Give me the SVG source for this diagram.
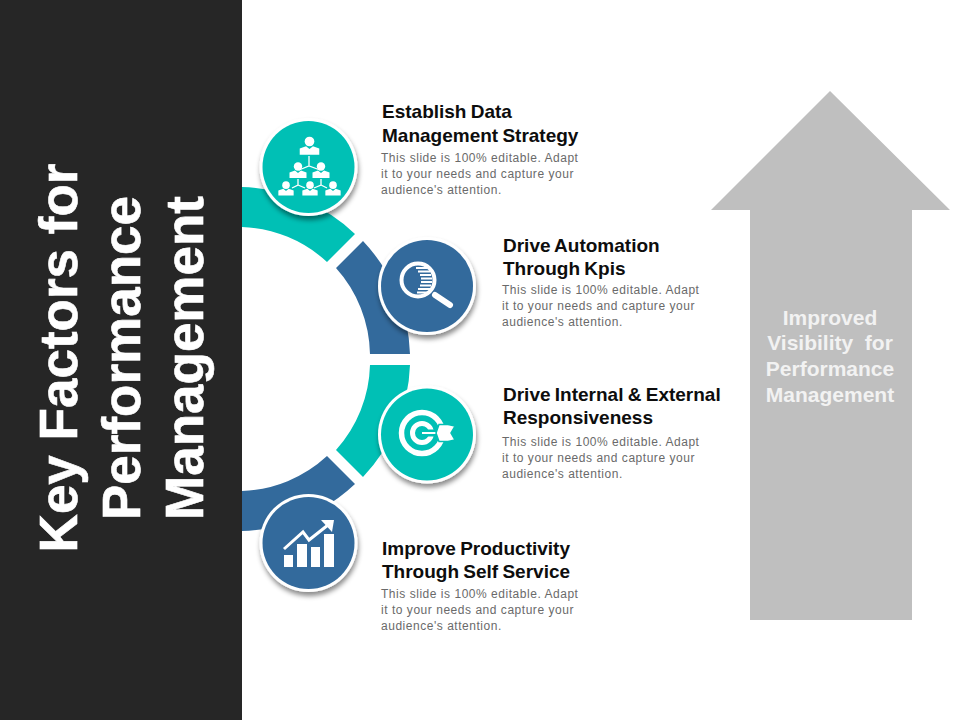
<svg xmlns="http://www.w3.org/2000/svg" width="960" height="720" viewBox="0 0 960 720">
<defs>
<style>
.h{font:bold 19px "Liberation Sans",Arial,sans-serif;fill:#0d0d0d;word-spacing:-1px}
.b{font:12px "Liberation Sans",Arial,sans-serif;fill:#6a6a6a;letter-spacing:.53px}
.t{font:bold 53px "Liberation Sans",Arial,sans-serif;fill:#fff;text-anchor:middle;stroke:#fff;stroke-width:.6}
.a{font:bold 21px "Liberation Sans",Arial,sans-serif;fill:#f2f2f2;text-anchor:middle;white-space:pre}
.w{fill:#fff}
.ws{fill:none;stroke:#fff;stroke-width:2}
</style>
<filter id="sh" x="-20%" y="-20%" width="140%" height="140%"><feDropShadow dx="1" dy="4" stdDeviation="2.500" flood-color="#000" flood-opacity=".45"/></filter>
<g id="p"><circle cx="0" cy="-6.500" r="4.200" class="w"/><path class="w" d="M-8.500 5V-.5L-3-2.500L0 0L3-2.500L8.500-.5V5Z"/></g>
</defs>
<rect width="960" height="720" fill="#fff"/>
<rect id="panel" width="242" height="720" fill="#262626"/>
<g id="title"><g transform="translate(77 358) rotate(-90)"><text class="t">Key Factors for</text></g><g transform="translate(140 358) rotate(-90)"><text class="t">Performance</text></g><g transform="translate(203 358) rotate(-90)"><text class="t">Management</text></g></g>
<g id="connectors">
<path fill="#00c0b5" d="M242 187A172 172 0 0 1 355 234L327 262A132 132 0 0 0 242 227Z"/>
<path fill="#336a9c" d="M363 241A172 172 0 0 1 410 354H370A132 132 0 0 0 336 268Z"/>
<path fill="#00c0b5" d="M410 365A172 172 0 0 1 363 477L336 450A132 132 0 0 0 370 365Z"/>
<path fill="#336a9c" d="M355 484A172 172 0 0 1 242 531V491A132 132 0 0 0 327 456Z"/>
</g>
<g id="node1"><circle cx="308.500" cy="167" r="49" fill="#fff" filter="url(#sh)"/><circle cx="308.500" cy="167" r="46" fill="#00c0b5"/>
<use href="#p" transform="translate(309.500 149) scale(1.150)"/><use href="#p" x="298" y="173"/><use href="#p" x="321" y="173"/><use href="#p" transform="translate(286 191) scale(.9)"/><use href="#p" transform="translate(310 191) scale(.9)"/><use href="#p" transform="translate(333 191) scale(.9)"/>
<path class="ws" style="stroke-width:1.300" d="M309 156V166M299 170L309 166L320 170M298 179V185L292 188M298 185L305 188M321 179V185L314 188M321 185L327 188"/></g>
<g id="node2"><circle cx="427" cy="286" r="49" fill="#fff" filter="url(#sh)"/><circle cx="427" cy="286" r="46" fill="#336a9c"/>
<circle cx="418" cy="280" r="16.500" fill="none" stroke="#fff" stroke-width="4"/><path d="M435 295L450 305" stroke="#fff" stroke-width="6" stroke-linecap="round"/>
<path d="M416 268H427M418 271.500H430M420 275H431M421 278.500H432M421 282H432M420 285.500H431M418 289H430M417 292.500H428" stroke="#fff" stroke-width="2" fill="none"/></g>
<g id="node3"><circle cx="427" cy="434.500" r="49" fill="#fff" filter="url(#sh)"/><circle cx="427" cy="434.500" r="46" fill="#00c0b5"/>
<circle cx="422" cy="433" r="20.500" fill="none" stroke="#fff" stroke-width="5.500"/><circle cx="422" cy="433" r="9.500" fill="none" stroke="#fff" stroke-width="5"/>
<path d="M424 433H442" stroke="#00c0b5" stroke-width="7"/><path d="M422 433H442" stroke="#fff" stroke-width="2"/>
<path class="w" stroke="#00c0b5" stroke-width="1.500" d="M436 433L439 424.500H448L455 426L451 433L455 440L448 441.500H439Z"/></g>
<g id="node4"><circle cx="308.500" cy="543" r="49" fill="#fff" filter="url(#sh)"/><circle cx="308.500" cy="543" r="46" fill="#336a9c"/>
<path class="w" d="M284 555H293V567H284ZM297 544H307V567H297ZM311 547H320V567H311ZM324 534H334V567H324Z"/>
<path d="M284 549L303 532L309 540L328 525" fill="none" stroke="#fff" stroke-width="3"/><path class="w" d="M321 520H334L332 532Z"/></g>
<g id="labels">
<text class="h" x="382" y="118">Establish Data</text><text class="h" x="382" y="142">Management Strategy</text>
<text class="b" x="381" y="162">This slide is 100% editable. Adapt</text><text class="b" x="381" y="178">it to your needs and capture your</text><text class="b" x="381" y="194">audience's attention.</text>
<text class="h" x="503" y="252">Drive Automation</text><text class="h" x="503" y="275">Through Kpis</text>
<text class="b" x="502" y="294">This slide is 100% editable. Adapt</text><text class="b" x="502" y="310">it to your needs and capture your</text><text class="b" x="502" y="326">audience's attention.</text>
<text class="h" x="503" y="401">Drive Internal &amp; External</text><text class="h" x="503" y="424">Responsiveness</text>
<text class="b" x="502" y="446">This slide is 100% editable. Adapt</text><text class="b" x="502" y="462">it to your needs and capture your</text><text class="b" x="502" y="478">audience's attention.</text>
<text class="h" x="382" y="555">Improve Productivity</text><text class="h" x="382" y="578">Through Self Service</text>
<text class="b" x="381" y="598">This slide is 100% editable. Adapt</text><text class="b" x="381" y="614">it to your needs and capture your</text><text class="b" x="381" y="630">audience's attention.</text>
</g>
<g id="arrow"><path fill="#bfbfbf" d="M830 91L950 210H912V620H750V210H711Z"/>
<text class="a" x="830" y="325">Improved</text><text class="a" x="830" y="350">Visibility  for</text><text class="a" x="830" y="376">Performance</text><text class="a" x="830" y="402">Management</text></g>
</svg>
